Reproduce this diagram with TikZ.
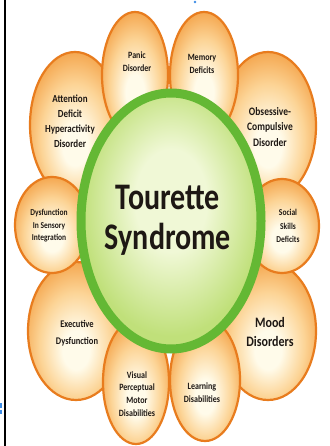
\documentclass[tikz,border=0pt]{standalone}
\usepackage{fontspec}
\setmainfont{Carlito}
\usetikzlibrary{shapes.geometric}
\definecolor{pale}{RGB}{255,251,234}
\definecolor{midor}{RGB}{252,212,150}
\definecolor{outor}{RGB}{245,170,84}
\definecolor{petalline}{RGB}{232,124,30}
\definecolor{gpale}{RGB}{240,248,214}
\definecolor{gmid}{RGB}{192,224,122}
\definecolor{gring}{RGB}{100,184,52}
\definecolor{txt}{RGB}{30,24,20}
\definecolor{speck}{RGB}{60,140,230}
\pgfdeclareradialshading{petalshade}{\pgfpoint{0bp}{-8bp}}{color(0bp)=(pale);color(7bp)=(pale);color(19bp)=(midor);color(28bp)=(outor);color(50bp)=(outor)}
\pgfdeclareradialshading{greenshade}{\pgfpoint{0bp}{5bp}}{color(0bp)=(gpale);color(10bp)=(gpale);color(25bp)=(gmid);color(50bp)=(gmid)}
\newcommand{\stx}[1]{\scalebox{1}[1.2]{#1}}
\begin{document}
\begin{tikzpicture}[x=1pt,y=-1pt,
  petal/.style={ellipse, draw=petalline, line width=2.2pt, shading=petalshade, inner sep=0pt},
  lbl/.style={align=center, text=txt, inner sep=0pt}]
\useasboundingbox[fill=white] (0,0) rectangle (329,446);
% frame line and specks
\draw[line width=2pt] (5,0) -- (5,446);
\fill[speck] (195,2) circle (1.3pt);
\fill[speck] (0,403) rectangle (2,408);
\fill[speck] (0,410) rectangle (2,414);
% big petals
\node[petal, minimum width=90pt, minimum height=146pt] (adhd) at (75,125) {};
\node[petal, minimum width=96pt, minimum height=148pt] (ocd) at (268,126) {};
\node[petal, minimum width=96pt, minimum height=138pt] (exec) at (76,331) {};
\node[petal, minimum width=96pt, minimum height=138pt] (mood) at (268,331) {};
% small petals
\node[petal, minimum width=74pt, minimum height=96pt] (sens) at (52,225) {};
\node[petal, minimum width=74pt, minimum height=94pt] (soc) at (282,226) {};
\node[petal, minimum width=66pt, minimum height=126pt] (panic) at (135,75) {};
\node[petal, minimum width=68pt, minimum height=126pt] (mem) at (204,75) {};
\node[petal, minimum width=66pt, minimum height=124pt] (vis) at (136,382) {};
\node[petal, minimum width=70pt, minimum height=122pt] (learn) at (205,380) {};
% labels
\node[lbl, font=\bfseries\fontsize{9}{15}\selectfont] (tadhd) at (70,121) {\stx{Attention}\\\stx{Deficit}\\\stx{Hyperactivity}\\\stx{Disorder}};
\node[lbl, font=\bfseries\fontsize{9.5}{15.5}\selectfont] (tocd) at (270,127) {\stx{Obsessive-}\\\stx{Compulsive}\\\stx{Disorder}};
\node[lbl, font=\bfseries\fontsize{7.5}{13.5}\selectfont] (tsoc) at (288,226) {\stx{Social}\\\stx{Skills}\\\stx{Deficits}};
\node[lbl, font=\bfseries\fontsize{7.5}{12.5}\selectfont] (tsens) at (49,226) {\stx{Dysfunction}\\\stx{In Sensory}\\\stx{Integration}};
\node[lbl, font=\bfseries\fontsize{8.5}{17}\selectfont] (texec) at (77,333) {\stx{Executive}\\\stx{Dysfunction}};
\node[lbl, font=\bfseries\fontsize{12}{19}\selectfont] (tmood) at (270,332) {\stx{Mood}\\\stx{Disorders}};
\node[lbl, font=\bfseries\fontsize{8}{12.7}\selectfont] (tvis) at (137,394) {\stx{Visual}\\\stx{Perceptual}\\\stx{Motor}\\\stx{Disabilities}};
\node[lbl, font=\bfseries\fontsize{8}{13}\selectfont] (tlearn) at (202,393) {\stx{Learning}\\\stx{Disabilities}};
\node[lbl, font=\bfseries\fontsize{8}{13}\selectfont] (tpanic) at (137,62) {\stx{Panic}\\\stx{Disorder}};
\node[lbl, font=\bfseries\fontsize{8}{13}\selectfont] (tmem) at (202,64) {\stx{Memory}\\\stx{Deficits}};
% centre
\node[ellipse, draw=gring, line width=9pt, shading=greenshade, inner sep=0pt, minimum width=180pt, minimum height=256pt] (centre) at (171,221) {};
\node[lbl, font=\bfseries\fontsize{30}{40}\selectfont] (tcentre) at (168,220) {\scalebox{1}[1.25]{Tourette}\\\scalebox{1}[1.25]{Syndrome}};
\end{tikzpicture}
\end{document}
